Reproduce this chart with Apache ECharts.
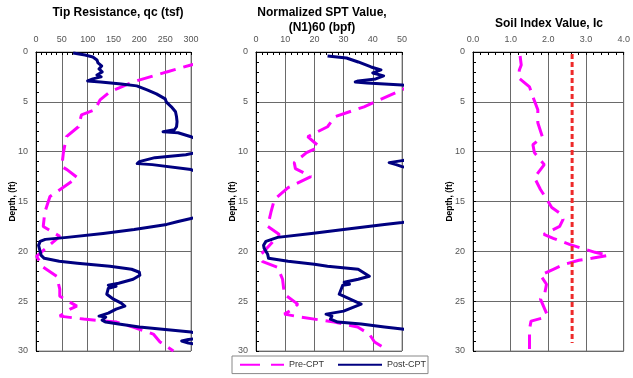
<!DOCTYPE html>
<html><head><meta charset="utf-8">
<script src="https://cdn.jsdelivr.net/npm/echarts@6/dist/echarts.min.js"></script>
<style>html,body{margin:0;padding:0;background:#fff}#c{width:633px;height:378px}</style>
</head><body><div id="c"></div>
<script>
// ---- tick labels ----
const depthTicks = [0, 5, 10, 15, 20, 25, 30];
const qcTicks = [0, 50, 100, 150, 200, 250, 300];
const sptTicks = [0, 10, 20, 30, 40, 50];
const icTicks = [0, 1, 2, 3, 4];

const panelTitles = ['Tip Resistance, qc (tsf)', 'Normalized SPT Value,\n(N1)60 (bpf)', 'Soil Index Value, Ic'];
const depthName = 'Depth, (ft)';
const legendNames = ['Pre-CPT', 'Post-CPT'];

// ---- Tip resistance qc (tsf) ----
const qcPreDepth = [0.5, 1.3, 2.0, 3.0, 4.0, 4.8, 5.8, 6.3, 7.5, 8.5, 10.1, 11.5, 11.8, 12.6, 14.5, 16.1, 17.5, 18.5, 20.5, 21.6, 22.5, 23.8, 24.5, 25.5, 25.8, 26.5, 26.8, 27.1, 27.6, 28.3, 29.1, 30.0];
const qcPreVal   = [360, 300, 253, 188, 143, 124, 114, 88, 82, 59, 53, 50, 60, 80, 27, 17, 14, 46, 1, 14, 40, 46, 46, 79, 66, 46, 92, 156, 188, 227, 240, 266];

const qcPostDepth = [0.1, 0.3, 0.5, 0.8, 1.1, 1.4, 1.7, 2.0, 2.3, 2.5, 2.7, 2.9, 3.0, 3.2, 3.4, 3.8, 4.2, 4.7, 5.0, 5.5, 6.0, 6.5, 7.0, 7.5, 7.8, 8.0, 8.1, 8.5, 9.0, 10.0, 10.3, 10.6, 11.0, 11.2, 11.3, 11.8, 12.2, 16.5, 16.7, 17.0, 17.3, 17.8, 18.2, 18.6, 18.8, 19.0, 19.4, 20.0, 20.4, 20.7, 21.0, 21.2, 21.5, 21.8, 22.1, 22.4, 22.8, 23.2, 23.4, 23.5, 23.7, 24.3, 24.8, 25.2, 25.5, 25.8, 26.2, 26.5, 26.6, 26.9, 27.1, 27.3, 27.6, 27.9, 28.1, 28.3, 28.7, 28.85, 29.0, 29.2, 29.4];
const qcPostVal   = [72, 95, 110, 118, 120, 127, 122, 128, 118, 126, 110, 100, 125, 165, 195, 215, 233, 250, 252, 262, 270, 272, 273, 272, 268, 246, 275, 300, 320, 320, 290, 230, 200, 196, 225, 300, 320, 320, 300, 275, 253, 190, 130, 60, 18, 8, 5, 8, 10, 16, 45, 80, 143, 185, 200, 201, 188, 160, 140, 155, 140, 137, 150, 165, 172, 155, 140, 122, 135, 128, 135, 160, 200, 260, 300, 320, 320, 295, 282, 295, 320];

// ---- Normalized SPT (N1)60 (bpf) ----
const sptPreDepth = [3.0, 3.8, 5.5, 6.5, 7.5, 8.5, 9.5, 10.1, 11.1, 11.7, 12.5, 13.6, 14.8, 16.1, 17.5, 18.3, 19.8, 20.3, 21.0, 21.6, 22.8, 24.3, 25.3, 25.8, 26.3, 26.6, 27.1, 27.6, 28.3, 29.1, 29.8];
const sptPreVal   = [55, 50, 37, 27, 24.5, 17.7, 21.7, 17.3, 13.1, 13.5, 18.8, 11, 6.3, 5.1, 4.0, 8.0, 3.4, 1.7, 2.1, 7.4, 9.1, 9.7, 14.3, 12.6, 9.7, 15.4, 26.8, 34.8, 38.8, 40.6, 44.5];

const sptPostDepth = [0.4, 0.6, 1.0, 1.5, 1.8, 2.1, 2.4, 2.7, 2.9, 3.0, 3.1, 3.3, 3.5, 10.7, 10.9, 11.1, 11.3, 11.5, 11.7, 16.9, 17.1, 17.3, 17.8, 18.2, 18.6, 19.0, 19.4, 19.7, 20.3, 20.7, 21.0, 21.3, 21.5, 21.8, 22.5, 22.8, 23.1, 23.3, 23.4, 24.3, 24.9, 25.3, 26.0, 26.3, 26.5, 26.8, 27.1, 27.3, 27.6, 27.8, 28.0];
const sptPostVal   = [24.5, 31, 35, 39.4, 42.8, 40, 43.7, 41, 35, 34, 38, 50, 55, 55, 50, 45.6, 48, 50, 55, 55, 50, 44, 30, 19, 7.4, 3.4, 2.6, 2.8, 4.0, 4.3, 11, 20, 24.5, 35, 38.8, 35, 30.2, 32, 29.7, 28.5, 33, 36, 30, 24, 26, 25.5, 28, 36, 44, 50, 55];

// ---- Soil index Ic ----
const icPreDepth = [0.4, 1.3, 1.8, 2.6, 3.5, 4.5, 5.8, 7.1, 8.5, 9.3, 10.1, 11.3, 12.6, 13.8, 14.8, 15.6, 16.3, 16.8, 17.5, 18.3, 18.7, 19.3, 19.6, 20.1, 20.4, 20.7, 20.9, 21.3, 21.8, 22.4, 23.3, 24.3, 24.8, 26.3, 26.7, 27.0, 27.8, 29.8];
const icPreVal   = [1.25, 1.28, 1.23, 1.21, 1.50, 1.59, 1.72, 1.72, 1.84, 1.59, 1.63, 1.89, 1.63, 1.79, 1.96, 2.09, 2.35, 2.39, 2.30, 1.88, 2.13, 2.56, 2.81, 3.24, 3.59, 3.15, 2.81, 2.43, 2.13, 1.79, 1.95, 1.90, 1.79, 1.96, 1.84, 1.54, 1.50, 1.50];

const icLimitDepth = [0.2, 29.2];
const icLimitVal   = [2.63, 2.63];

// ---- build ----
const FONT = '"Liberation Sans", Arial, sans-serif';
const zip = (xs, ys) => xs.map((x, i) => [x, ys[i]]);
const grids = [
  { left: 36, top: 52, width: 155, height: 299 },
  { left: 256, top: 52, width: 146, height: 299 },
  { left: 473, top: 52, width: 156, height: 299 }
];
const xTickSets = [qcTicks, sptTicks, icTicks];
const xFormat = [v => String(v), v => String(v), v => v.toFixed(1)];

const gridOpts = grids.map(g => Object.assign({ show: true, borderColor: '#909090', borderWidth: 1, containLabel: false }, g));
const xAxes = xTickSets.map((t, i) => ({
  type: 'value', gridIndex: i, position: 'top',
  min: t[0], max: t[t.length - 1], interval: t[1] - t[0],
  axisLine: { show: true, onZero: false, lineStyle: { color: '#000', width: 1 } },
  axisTick: { show: true, inside: true, length: 3, lineStyle: { color: '#000' } },
  minorTick: { show: true, splitNumber: 5, length: 3, lineStyle: { color: '#000' } },
  splitLine: { show: true, lineStyle: { color: '#6a6a6a', width: 1 } },
  axisLabel: { fontSize: 9, color: '#555', fontFamily: FONT, margin: 8, formatter: xFormat[i], showMaxLabel: true, showMinLabel: true }
}));
const yAxes = [0, 1, 2].map(i => ({
  type: 'value', gridIndex: i, inverse: true,
  min: depthTicks[0], max: depthTicks[depthTicks.length - 1], interval: depthTicks[1] - depthTicks[0],
  name: depthName, nameLocation: 'middle', nameRotate: 90, nameGap: 19, nameMoveOverlap: false,
  nameTextStyle: { fontSize: 8.5, fontWeight: 'bold', color: '#000', fontFamily: FONT },
  axisLine: { show: true, onZero: false, lineStyle: { color: '#000', width: 1 } },
  axisTick: { show: true, inside: true, length: 3, lineStyle: { color: '#000' } },
  minorTick: { show: true, splitNumber: 5, length: 3, lineStyle: { color: '#000' } },
  splitLine: { show: true, lineStyle: { color: '#6a6a6a', width: 1 } },
  axisLabel: { fontSize: 9, color: '#555', fontFamily: FONT, margin: 8 }
}));

const preStyle = { color: '#ff00ff', width: 3, type: [16, 8], cap: 'butt' };
const postStyle = { color: '#000080', width: 3, type: 'solid', join: 'round' };
function line(name, gi, xs, ys, style, z) {
  return { type: 'line', name, xAxisIndex: gi, yAxisIndex: gi, data: zip(xs, ys),
    symbol: 'none', clip: true, animation: false, z: z,
    lineStyle: style, itemStyle: { color: style.color } };
}
const series = [
  line(legendNames[0], 0, qcPreVal, qcPreDepth, preStyle, 2),
  line(legendNames[1], 0, qcPostVal, qcPostDepth, postStyle, 3),
  line(legendNames[0], 1, sptPreVal, sptPreDepth, preStyle, 2),
  line(legendNames[1], 1, sptPostVal, sptPostDepth, postStyle, 3),
  line(legendNames[0], 2, icPreVal, icPreDepth, preStyle, 2),
  line('Ic boundary', 2, icLimitVal, icLimitDepth, { color: '#ee2a2a', width: 3, type: [5, 3] }, 3)
];

const titleCenters = [[118, 5], [322, 5], [549, 16]];
const titleOpts = panelTitles.map((t, i) => ({
  text: t, left: titleCenters[i][0], top: titleCenters[i][1], textAlign: 'center', padding: 0,
  textStyle: { fontSize: 12, fontWeight: 'bold', color: '#000', fontFamily: FONT, lineHeight: 15 }
}));

const chart = echarts.init(document.getElementById('c'), null, { renderer: 'canvas' });
chart.setOption({
  animation: false,
  backgroundColor: '#fff',
  title: titleOpts,
  grid: gridOpts,
  xAxis: xAxes,
  yAxis: yAxes,
  legend: {
    data: [
      { name: legendNames[0], lineStyle: { type: [20, 11] } },
      { name: legendNames[1] }
    ],
    left: 232, top: 356, itemWidth: 44, itemHeight: 12, itemGap: 13,
    padding: [4, 2, 4, 7], borderColor: '#888', borderWidth: 1, borderRadius: 0,
    backgroundColor: '#fff',
    itemStyle: { opacity: 0, borderWidth: 0 },
    textStyle: { fontSize: 9, color: '#333', fontFamily: FONT }
  },
  series: series
});
</script>
</body></html>
